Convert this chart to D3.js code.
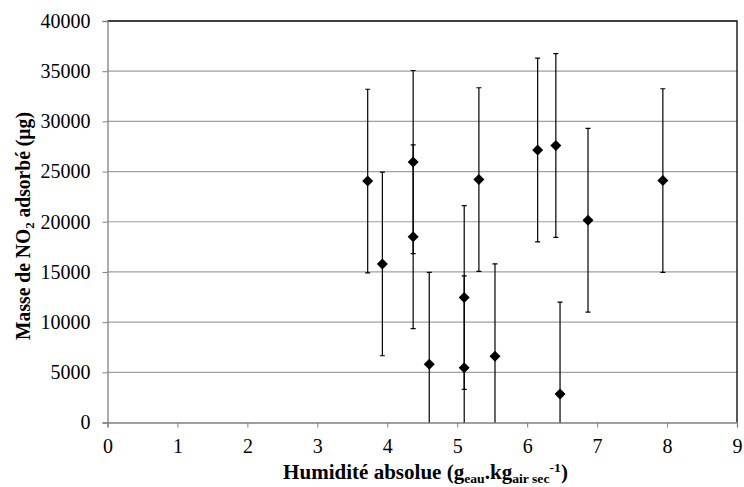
<!DOCTYPE html>
<html>
<head>
<meta charset="utf-8">
<script src="https://cdn.jsdelivr.net/npm/d3@7"></script>
<style>
  body { margin: 0; background: #fff; }
  svg text { font-family: "Times New Roman", Times, "Liberation Serif", "DejaVu Serif", serif !important; fill: #000; }
</style>
</head>
<body>
<div id="chart"></div>
<script>
// Humidité absolue (g eau / kg air sec)
const humidity = [3.72, 3.93, 4.37, 4.37, 4.60, 5.10, 5.10, 5.31, 5.54, 6.15, 6.41, 6.47, 6.87, 7.94];
// Masse de NO2 adsorbé (µg)
const massNO2 = [24050, 15800, 25950, 18500, 5800, 12450, 5450, 24200, 6600, 27150, 27600, 2850, 20150, 24100];
// error bar half-width (µg)
const massErr = [9150, 9150, 9120, 9150, 9150, 9150, 9150, 9150, 9200, 9150, 9150, 9150, 9150, 9150];

const xTicks = [0, 1, 2, 3, 4, 5, 6, 7, 8, 9];
const yTicks = [0, 5000, 10000, 15000, 20000, 25000, 30000, 35000, 40000];

const width = 744, height = 487;
const margin = {left: 107.5, right: 7, top: 21, bottom: 64.5};

const svg = d3.select("#chart").append("svg")
    .attr("width", width)
    .attr("height", height);

const x = d3.scaleLinear()
    .domain([0, 9])
    .range([margin.left, width - margin.right]);

const y = d3.scaleLinear()
    .domain([0, 40000])
    .range([height - margin.bottom, margin.top]);

// grid lines
svg.append("g")
    .selectAll("line")
    .data(yTicks.slice(1, -1))
    .enter().append("line")
    .attr("x1", x(0)).attr("x2", x(9))
    .attr("y1", d => y(d)).attr("y2", d => y(d))
    .attr("stroke", "#a0a0a0")
    .attr("stroke-width", 1.2);

// plot border top and right
svg.append("path")
    .attr("d", `M${x(0)},${y(40000)}H${x(9)}V${y(0)}`)
    .attr("fill", "none")
    .attr("stroke", "#000")
    .attr("stroke-width", 1.3);

// axes
const xAxis = svg.append("g")
    .attr("transform", `translate(0,${y(0)})`)
    .call(d3.axisBottom(x).tickValues(xTicks).tickSize(5).tickPadding(11).tickFormat(d3.format("d")));

const yAxis = svg.append("g")
    .attr("transform", `translate(${x(0)},0)`)
    .call(d3.axisLeft(y).tickValues(yTicks).tickSize(5).tickPadding(12).tickFormat(d3.format("d")));

[xAxis, yAxis].forEach(ax => {
    ax.attr("font-family", null);
    ax.select(".domain").attr("stroke", "#808080").attr("stroke-width", 1.3);
    ax.selectAll(".tick line").attr("stroke", "#808080");
    ax.selectAll(".tick text")
        .style("font-size", "20px");
});

// error bars, clipped to plot area
svg.append("defs").append("clipPath").attr("id", "plot-clip")
    .append("rect")
    .attr("x", x(0) - 10).attr("y", y(40000) - 10)
    .attr("width", x(9) - x(0) + 20).attr("height", y(0) - y(40000) + 10);

const points = humidity.map((h, i) => ({h: h, m: massNO2[i], e: massErr[i]}));

const bars = svg.append("g").attr("clip-path", "url(#plot-clip)")
    .selectAll("g")
    .data(points)
    .enter().append("g");

bars.append("line")
    .attr("x1", d => x(d.h)).attr("x2", d => x(d.h))
    .attr("y1", d => y(d.m + d.e)).attr("y2", d => y(d.m - d.e))
    .attr("stroke", "#000").attr("stroke-width", 1.2);

bars.append("line")
    .attr("x1", d => x(d.h) - 2.5).attr("x2", d => x(d.h) + 2.5)
    .attr("y1", d => y(d.m + d.e)).attr("y2", d => y(d.m + d.e))
    .attr("stroke", "#000").attr("stroke-width", 1.2);

bars.filter(d => d.m - d.e > 0).append("line")
    .attr("x1", d => x(d.h) - 2.5).attr("x2", d => x(d.h) + 2.5)
    .attr("y1", d => y(d.m - d.e)).attr("y2", d => y(d.m - d.e))
    .attr("stroke", "#000").attr("stroke-width", 1.2);

// diamonds
svg.append("g")
    .selectAll("path")
    .data(points)
    .enter().append("path")
    .attr("transform", d => `translate(${x(d.h)},${y(d.m)})`)
    .attr("d", "M0,-5.5L5.5,0L0,5.5L-5.5,0Z")
    .attr("fill", "#000");

// axis titles (Excel draws them a little condensed, so squeeze to the measured length)
function fitText(sel, len) {
    const w = sel.node().getBBox().width;
    return w > 0 ? len / w : 1;
}

const xTitleG = svg.append("g");
const xTitle = xTitleG.append("text")
    .attr("text-anchor", "middle")
    .style("font-size", "20px")
    .style("font-weight", "bold");
xTitle.append("tspan").text("Humidité absolue (g");
xTitle.append("tspan").attr("dy", 4).style("font-size", "13px").text("eau");
xTitle.append("tspan").attr("dy", -4).text(".kg");
xTitle.append("tspan").attr("dy", 4).style("font-size", "13px").text("air sec");
xTitle.append("tspan").attr("dy", -11).style("font-size", "13px").text("-1");
xTitle.append("tspan").attr("dy", 7).text(")");
xTitleG.attr("transform", `translate(${(283 + 568) / 2},479) scale(${fitText(xTitle, 285)},1)`);

const yTitleG = svg.append("g");
const yTitle = yTitleG.append("text")
    .attr("text-anchor", "middle")
    .style("font-size", "20px")
    .style("font-weight", "bold");
yTitle.append("tspan").text("Masse de NO");
yTitle.append("tspan").attr("dy", 4).style("font-size", "13px").text("2");
yTitle.append("tspan").attr("dy", -4).text(" adsorbé (µg)");
yTitleG.attr("transform", `translate(30,226) rotate(-90) scale(${fitText(yTitle, 228)},1)`);
</script>
</body>
</html>
